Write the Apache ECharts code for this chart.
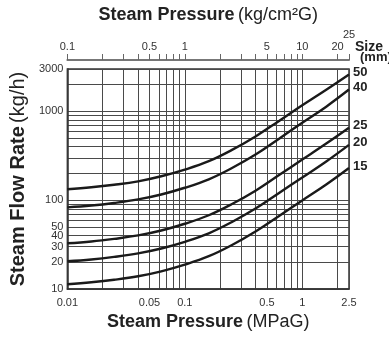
<!DOCTYPE html>
<html><head><meta charset="utf-8">
<script src="https://cdn.jsdelivr.net/npm/echarts@6/dist/echarts.min.js"></script>
<style>html,body{margin:0;padding:0;background:#fff}#c{width:389px;height:340px}</style>
</head><body><div id="c"></div>
<script>
// Data
const pressures = [0.01, 0.016, 0.025, 0.04, 0.063, 0.1, 0.16, 0.25, 0.4, 0.63, 1, 1.6, 2.5]; // MPaG
const sizeNames = ['50', '40', '25', '20', '15']; // mm
const flow50 = [133, 139.6, 149, 163, 186, 221, 275, 366, 522, 776, 1169, 1750, 2600];
const flow40 = [83, 87, 93, 102, 116, 138, 172, 229, 327, 490, 745, 1130, 1760];
const flow25 = [32.7, 34.3, 36.7, 40.1, 45.6, 54.3, 67.7, 90, 128, 191, 287, 435, 655];
const flow20 = [20.5, 21.5, 23, 25.2, 28.6, 34, 42.4, 56.5, 80.4, 120, 180, 273, 420];
const flow15 = [11.3, 11.9, 12.7, 13.9, 15.8, 18.8, 23.4, 31.1, 44.4, 66, 99.3, 150, 230];

const bottomTickLabels = [0.01, 0.05, 0.1, 0.5, 1, 2.5];
const bottomGridValues = [0.01,0.02,0.03,0.04,0.05,0.06,0.07,0.08,0.09,0.1,0.2,0.3,0.4,0.5,0.6,0.7,0.8,0.9,1,2,2.5];
const topTickLabels = [0.1, 0.5, 1, 5, 10, 20, 25]; // kg/cm2G
const topTickValues = [0.1,0.2,0.3,0.4,0.5,0.6,0.7,0.8,0.9,1,2,3,4,5,6,7,8,9,10,20,25];
const yTickLabels = [10, 20, 30, 40, 50, 100, 1000, 3000];
const yGridValues = [10,20,30,40,50,60,70,80,90,100,200,300,400,500,600,700,800,900,1000,2000,3000];

const allFlows = [flow50, flow40, flow25, flow20, flow15];
const FONT = '"Liberation Sans", Arial, sans-serif';
const gridLine = { show: true, lineStyle: { color: '#4a4a4a', width: 1 } };

const chart = echarts.init(document.getElementById('c'), null, { renderer: 'canvas' });
chart.setOption({
  animation: false,
  textStyle: { fontFamily: FONT },
  grid: { left: 61, right: 40, top: 69, bottom: 51, show: true, borderColor: '#333', borderWidth: 1.5 },
  xAxis: [{
    type: 'log', min: 0.01, max: 2.5, position: 'bottom',
    axisLine: { show: true, lineStyle: { color: '#333', width: 1.5 } },
    axisTick: { show: false, customValues: bottomGridValues },
    splitLine: gridLine,
    axisLabel: { customValues: bottomTickLabels, color: '#333', fontSize: 11, margin: 8, fontFamily: FONT, formatter: v => String(v) },
    name: '{b|Steam Pressure} {n|(MPaG)}', nameLocation: 'middle', nameGap: 19,
    nameTextStyle: { rich: { b: { fontWeight: 'bold', fontSize: 18, color: '#222', fontFamily: FONT }, n: { fontSize: 18, color: '#222', fontFamily: FONT } } }
  }, {
    type: 'log', min: 0.1, max: 25, position: 'top', offset: 9,
    axisLine: { show: true, lineStyle: { color: '#777', width: 2 } },
    axisTick: { show: true, customValues: topTickValues, length: 6, lineStyle: { color: '#666', width: 1 } },
    splitLine: { show: false },
    axisLabel: { customValues: topTickLabels, color: '#333', fontSize: 11, margin: 8, fontFamily: FONT,
      formatter: v => v === 25 ? '{s|25}' : String(v),
      rich: { s: { fontSize: 11, color: '#333', padding: [0, 0, 12, 0], fontFamily: FONT } } },
    name: '{b|Steam Pressure} {n|(kg/cm²G)}', nameLocation: 'middle', nameGap: 32,
    nameTextStyle: { rich: { b: { fontWeight: 'bold', fontSize: 18, color: '#222', fontFamily: FONT }, n: { fontSize: 18, color: '#222', fontFamily: FONT } } }
  }],
  yAxis: [{
    type: 'log', min: 10, max: 3000,
    axisLine: { show: true, lineStyle: { color: '#333', width: 1.5 } },
    axisTick: { show: false, customValues: yGridValues },
    splitLine: gridLine,
    axisLabel: { customValues: yTickLabels, color: '#333', fontSize: 11, margin: 4, fontFamily: FONT, formatter: v => String(v) },
    name: '{b|Steam Flow Rate} {n|(kg/h)}', nameLocation: 'middle', nameGap: 34,
    nameTextStyle: { rich: { b: { fontWeight: 'bold', fontSize: 20, color: '#222', fontFamily: FONT }, n: { fontSize: 20, color: '#222', fontFamily: FONT } } }
  }],
  graphic: [
    { type: 'text', left: 355, top: 40, style: { text: 'Size', font: 'bold 14px ' + FONT, fill: '#222' } },
    { type: 'text', left: 360, top: 51, style: { text: '(mm)', font: 'bold 13px ' + FONT, fill: '#222' } }
  ],
  series: allFlows.map((f, i) => ({
    name: sizeNames[i], type: 'line', smooth: 0.4, showSymbol: false, symbol: 'none',
    xAxisIndex: 0, yAxisIndex: 0,
    data: pressures.map((p, j) => [p, f[j]]),
    lineStyle: { color: '#1a1a1a', width: 2.4 },
    endLabel: { show: true, formatter: '{a}', fontWeight: 'bold', fontSize: 13, color: '#222', distance: 4, offset: [0, -2], fontFamily: FONT }
  }))
});
</script></body></html>
